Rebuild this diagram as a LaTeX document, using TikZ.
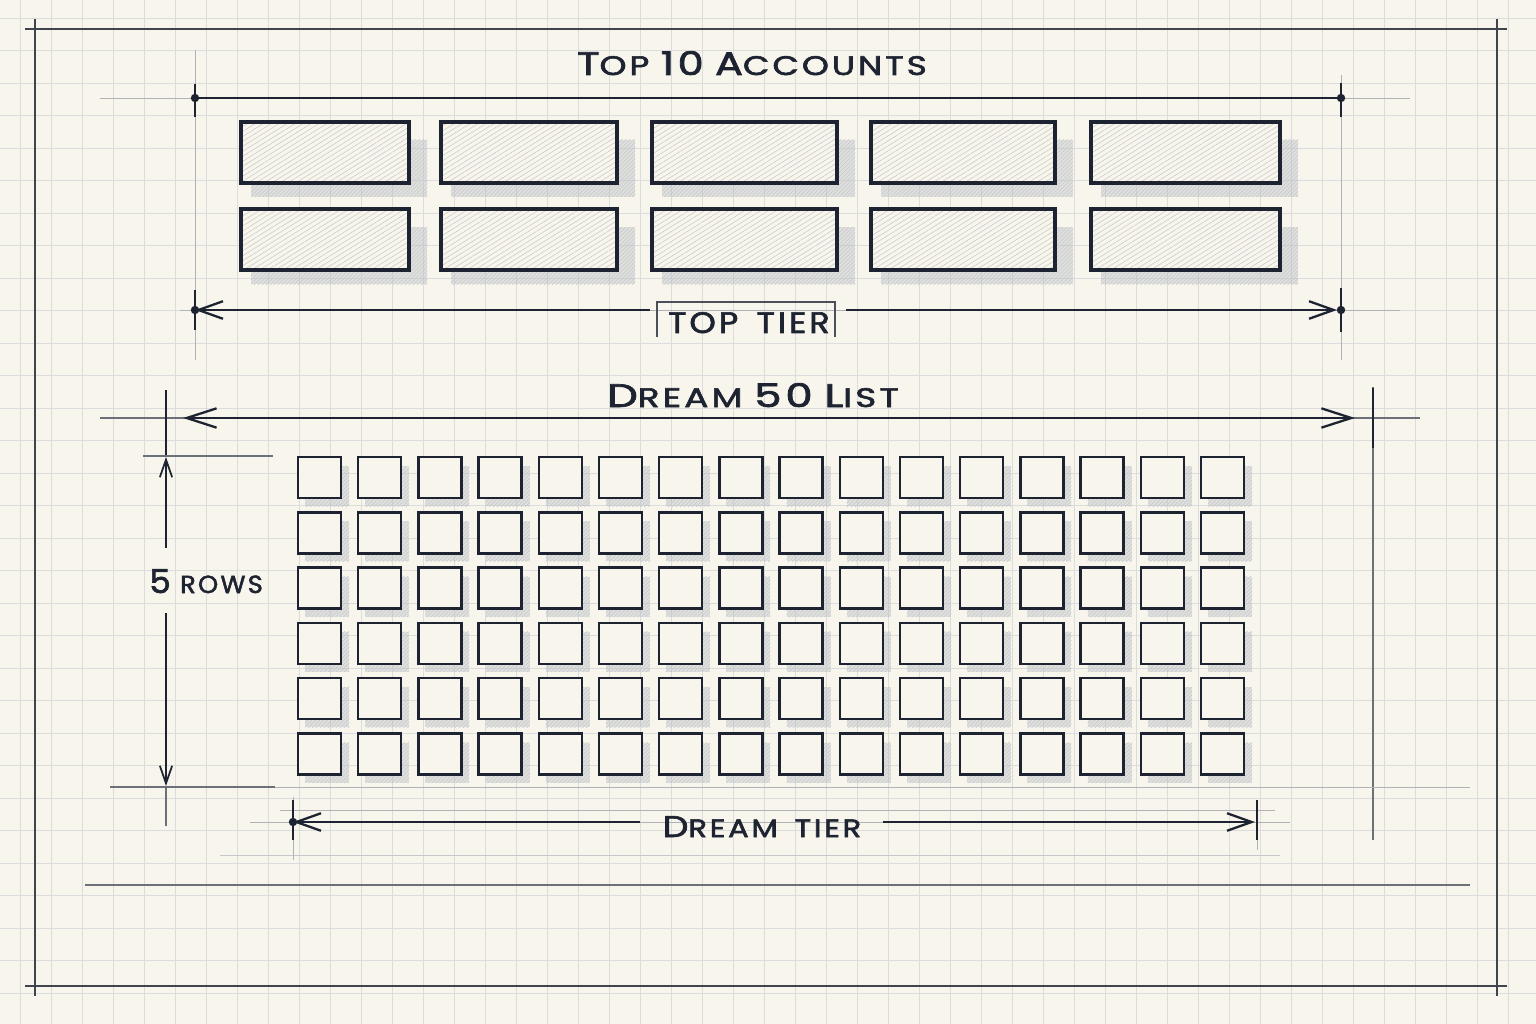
\documentclass[tikz,border=0pt]{standalone}
\usepackage{fontspec}
\usepackage{graphicx}
\setmainfont{Poppins}[FakeBold=2]
\usetikzlibrary{arrows.meta,patterns.meta}
\definecolor{ink}{HTML}{1D2330}
\definecolor{paper}{HTML}{F7F5EC}
\definecolor{gridc}{HTML}{DADDDC}
\definecolor{shade}{HTML}{B5BAC2}
\newcommand\capbig[2]{{\fontsize{#1}{#1}\selectfont #2}}
\newcommand\wsp{\hspace{0.55em}}
\newcommand\fitlabel[3]{\resizebox{#1}{#2}{\addfontfeature{LetterSpace=9}#3}}
\begin{document}
\begin{tikzpicture}[x=0.02cm,y=-0.02cm,
  gridline/.style={gridc, line width=0.45pt},
  constr/.style={ink!35, line width=0.5pt},
  constrd/.style={ink!65, line width=0.8pt},
  dimline/.style={ink, line width=1.6pt},
  frameline/.style={ink!85, line width=1pt},
  topbox/.style={draw=ink, line width=1.8pt},
  hatch/.style={pattern={Lines[angle=32,distance=2.4pt,line width=0.25pt]}, pattern color=ink!28},
  shadowfill/.style={fill=shade, opacity=0.35},
  shadowhatch/.style={pattern={Lines[angle=45,distance=1.6pt,line width=0.3pt]}, pattern color=ink!25},
  sqbox/.style={draw=ink, line width=1.4pt, fill=paper},
  bigarrow/.style={{Straight Barb[length=17pt,width=11pt,line width=1.3pt]}-{Straight Barb[length=17pt,width=11pt,line width=1.3pt]}},
  leftarrow/.style={{Straight Barb[length=14pt,width=10pt,line width=1.3pt]}-},
  rightarrow/.style={-{Straight Barb[length=14pt,width=10pt,line width=1.3pt]}},
  dot/.style={fill=ink},
  lbl/.style={text=ink, inner sep=0pt, anchor=base}
]
% paper
\fill[paper] (0,0) rectangle (1536,1024);
\useasboundingbox (0,0) rectangle (1536,1024);
% background grid
\foreach \gx in {20,51,...,1520} \draw[gridline] (\gx,0) -- (\gx,1024);
\foreach \gy in {18,50.5,...,1020} \draw[gridline] (0,\gy) -- (1536,\gy);

% frame
\draw[frameline] (25,29) -- (1507,29);
\draw[frameline] (25,986) -- (1507,986);
\draw[frameline] (35,19) -- (35,996);
\draw[frameline] (1497,19) -- (1497,996);

% construction lines
\draw[constr] (100,98) -- (1410,98);
\draw[constr] (195,50) -- (195,360);
\draw[constr] (1341,75) -- (1341,360);
\draw[constr] (180,310) -- (1400,310);
\draw[constrd] (100,418) -- (1420,418);
\draw[constrd] (166,390) -- (166,455);
\draw[constrd] (1373,387) -- (1373,840);
\draw[constrd] (143,456) -- (273,456);
\draw[constrd] (110,787) -- (275,787);
\draw[constr] (275,787) -- (1470,787);
\draw[constr] (280,810) -- (1275,810);
\draw[constr, ink!25] (220,855) -- (1280,855);
\draw[constrd] (85,885) -- (1470,885);
\draw[constrd] (166,787) -- (166,826);
\draw[constr] (293,797) -- (293,860);
\draw[constr] (1257,800) -- (1257,850);

% title
\node[lbl] (title) at (752,75) {\fitlabel{199pt}{13.6pt}{\capbig{20}{T}\capbig{16.5}{OP}\wsp\capbig{20}{10}\wsp\capbig{20}{A}\capbig{16.5}{CCOUNTS}}};

% top dimension line
\coordinate (tA) at (195,98);
\coordinate (tB) at (1341,98);
\draw[dimline] (tA) -- (tB);
\fill[dot] (tA) circle[radius=2.4pt];
\fill[dot] (tB) circle[radius=2.4pt];
\draw[ink, line width=1.3pt] (195,84) -- (195,117);
\draw[ink, line width=1.3pt] (1341,83) -- (1341,117);

% top boxes
\foreach \a/\b in {241/409,441/617,652/837,871/1055,1091/1280} {
  \foreach \ya/\yb in {122/183,209/270} {
    \fill[shadowfill] (\a+10,\ya+18) rectangle (\b+18,\yb+14);
    \fill[shadowhatch] (\a+10,\ya+18) rectangle (\b+18,\yb+14);
    \fill[paper] (\a,\ya) rectangle (\b,\yb);
    \fill[hatch] (\a,\ya) rectangle (\b,\yb);
    \draw[topbox] (\a,\ya) rectangle (\b,\yb);
  }
}

% top tier dimension
\coordinate (ttA) at (195,310);
\coordinate (ttL) at (650,310);
\coordinate (ttR) at (846,310);
\coordinate (ttB) at (1337,310);
\draw[dimline, leftarrow] (ttA) -- (ttL);
\draw[dimline, rightarrow] (ttR) -- (ttB);
\fill[dot] (ttA) circle[radius=2.4pt];
\fill[dot] (1341,310) circle[radius=2.4pt];
\draw[ink, line width=1.3pt] (195,290) -- (195,330);
\draw[ink, line width=1.3pt] (1341,288) -- (1341,332);
\node[lbl] (toptier) at (749,333) {\fitlabel{91.9pt}{11.9pt}{\capbig{17}{TOP\wsp TIER}}};
\draw[ink!80, line width=0.6pt] (657,337) -- (657,302) -- (835,302) -- (835,337);

% dream title
\node[lbl] (dream) at (753,407) {\fitlabel{166pt}{13.6pt}{\capbig{20}{D}\capbig{16.5}{REAM}\wsp\capbig{20}{50}\wsp\capbig{20}{L}\capbig{16.5}{IST}}};

% dream dimension
\coordinate (dA) at (166,418);
\coordinate (dB) at (1373,418);
\draw[dimline, bigarrow] (183,418) -- (1355,418);
\draw[ink, line width=1.4pt] (dA) ++(0,-28) -- ++(0,65);
\draw[ink, line width=1.4pt] (dB) ++(0,-30) -- ++(0,60);

% rows dimension
\coordinate (rA) at (166,457);
\coordinate (rB) at (166,786);
\draw[ink, line width=1.1pt, {Straight Barb[length=10pt,width=7pt,line width=1pt]}-] (rA) -- (166,548);
\draw[ink, line width=1.1pt, -{Straight Barb[length=10pt,width=7pt,line width=1pt]}] (166,613) -- (rB);
\node[lbl, anchor=base west] (rows) at (149,593) {\fitlabel{64.6pt}{13.6pt}{\capbig{20}{5}\wsp\capbig{15}{ROWS}}};

% squares grid
\foreach \c in {0,...,15} {
  \foreach \r in {0,...,5} {
    \pgfmathsetmacro\sx{298+60.2*\c}
    \pgfmathsetmacro\sy{457+55.3*\r}
    \fill[shadowfill] (\sx+7,\sy+9) rectangle (\sx+51,\sy+49);
    \fill[shadowhatch] (\sx+7,\sy+9) rectangle (\sx+51,\sy+49);
    \draw[sqbox] (\sx,\sy) rectangle (\sx+43,\sy+41);
  }
}

% dream tier dimension
\coordinate (dtA) at (293,822);
\coordinate (dtL) at (640,822);
\coordinate (dtR) at (883,822);
\coordinate (dtB) at (1255,822);
\draw[constr] (250,822) -- (1290,822);
\draw[dimline, leftarrow] (dtA) -- (dtL);
\draw[dimline, rightarrow] (dtR) -- (dtB);
\fill[dot] (dtA) circle[radius=2.4pt];
\draw[ink, line width=1.2pt] (293,800) -- (293,840);
\draw[ink, line width=1.2pt] (1257,800) -- (1257,840);
\node[lbl] (dreamtier) at (762,837) {\fitlabel{113pt}{11.9pt}{\capbig{19}{D}\capbig{16}{REAM\wsp TIER}}};
\end{tikzpicture}
\end{document}
